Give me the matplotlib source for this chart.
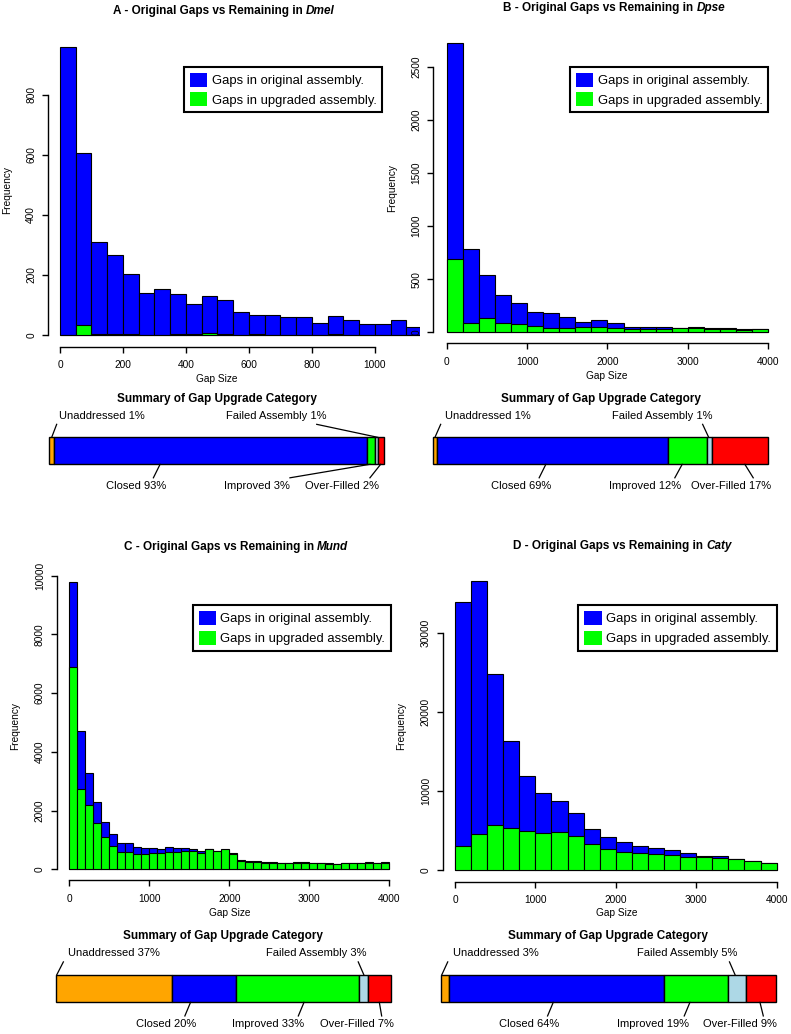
import numpy as np
import matplotlib
matplotlib.use('Agg')
import matplotlib.pyplot as plt
from matplotlib.patches import Patch

plt.rcParams['font.family'] = ['Liberation Sans', 'DejaVu Sans']

##### gap size histograms (counts per bin, original vs upgraded assembly)
panel_letters = ['A', 'B', 'C', 'D']
species = ['Dmel', 'Dpse', 'Mund', 'Caty']
bin_width = [50, 200, 100, 200]

dmel_orig = [961, 605, 311, 267, 203, 139, 152, 137, 103, 130, 117, 78, 67, 67,
             61, 61, 40, 62, 49, 38, 36, 50, 27]
dmel_upg = [0, 35, 5, 4, 2, 1, 1, 3, 3, 7, 2, 1, 2, 1, 1, 1, 1, 5, 1, 1, 1, 1, 1]

dpse_orig = [2720, 781, 540, 348, 279, 195, 185, 147, 100, 113, 88, 50, 50, 50,
             44, 53, 38, 38, 28, 28]
dpse_upg = [687, 91, 135, 91, 75, 63, 44, 44, 47, 47, 38, 28, 28, 31, 38, 44,
            28, 31, 22, 28]

mund_orig = [9773, 4722, 3292, 2293, 1612, 1192, 908, 885, 772, 715, 738, 704,
             749, 715, 715, 692, 636, 704, 624, 670, 545, 318, 272, 272, 240,
             240, 225, 230, 240, 240, 215, 220, 210, 190, 230, 225, 230, 235,
             225, 240]
mund_upg = [6900, 2735, 2190, 1566, 1112, 794, 602, 602, 533, 511, 567, 545,
            602, 602, 624, 613, 567, 681, 624, 681, 511, 300, 250, 255, 225,
            225, 210, 215, 225, 225, 200, 205, 195, 175, 215, 210, 215, 220,
            210, 225]

caty_orig = [33930, 36630, 24800, 16390, 11960, 9800, 8750, 7270, 5200, 4225,
             3590, 3085, 2750, 2535, 2200, 1817, 1730, 1394, 1140, 845]
caty_upg = [3040, 4520, 5700, 5365, 4985, 4650, 4775, 4350, 3250, 2620, 2320,
            2110, 1985, 1900, 1690, 1600, 1480, 1394, 1140, 845]

##### summary of gap upgrade category
categories = ['Unaddressed', 'Closed', 'Improved', 'Failed Assembly', 'Over-Filled']
cat_colors = ['#FFA500', '#0000FF', '#00FF00', '#ADD8E6', '#FF0000']
dmel_share = [1.4, 93.4, 2.5, 1.0, 1.7]
dpse_share = [1.2, 69.0, 11.5, 1.6, 16.7]
mund_share = [34.7, 19.0, 37.0, 2.7, 6.7]
caty_share = [2.6, 64.2, 18.9, 5.5, 8.9]
dmel_pct = [1, 93, 3, 1, 2]
dpse_pct = [1, 69, 12, 1, 17]
mund_pct = [37, 20, 33, 3, 7]
caty_pct = [3, 64, 19, 5, 9]

W, H = 791, 1034
fig = plt.figure(figsize=(W / 100, H / 100), dpi=100)


def box(x0, y0, x1, y1):
    return [x0 / W, 1 - y1 / H, (x1 - x0) / W, (y1 - y0) / H]


def fx(x):
    return x / W


def fy(y):
    return 1 - y / H


def title2(cx, cy, a, b, fs=8.5):
    # bold text followed by bold italic species name
    r = fig.canvas.get_renderer()
    t1 = fig.text(0, fy(cy), a, fontsize=fs, weight='bold', va='center', ha='left')
    t2 = fig.text(0, fy(cy), b, fontsize=fs, weight='bold', style='italic',
                  va='center', ha='left')
    w1 = t1.get_window_extent(r).width
    w2 = t2.get_window_extent(r).width
    gap = 0.28 * fs * 100 / 72
    x0 = cx - (w1 + gap + w2) / 2
    t1.set_x(fx(x0))
    t2.set_x(fx(x0 + w1 + gap))


def hist_panel(rect, orig, upg, bw, xlim, ylim, xticks, yticks, leg_xy):
    ax = fig.add_axes(box(*rect))
    ax.patch.set_alpha(0)
    edges = np.arange(len(orig)) * bw
    ax.bar(edges, orig, width=bw, align='edge', color='#0000FF',
           edgecolor='black', linewidth=0.8)
    ax.bar(edges, upg, width=bw, align='edge', color='#00FF00',
           edgecolor='black', linewidth=0.8)
    ax.set_xlim(*xlim)
    ax.set_ylim(*ylim)
    ax.set_xticks(xticks)
    ax.set_yticks(yticks)
    ax.spines['top'].set_visible(False)
    ax.spines['right'].set_visible(False)
    ax.spines['left'].set_bounds(yticks[0], yticks[-1])
    ax.spines['bottom'].set_bounds(xticks[0], xticks[-1])
    ax.spines['left'].set_linewidth(1)
    ax.spines['bottom'].set_linewidth(1)
    ax.tick_params(axis='x', length=4, width=1, labelsize=7.3, pad=6)
    ax.tick_params(axis='y', length=4.5, width=1, labelsize=7.3, pad=4)
    for lab in ax.get_yticklabels():
        lab.set_rotation(90)
        lab.set_va('center')
    handles = [Patch(facecolor='#0000FF', edgecolor='none'),
               Patch(facecolor='#00FF00', edgecolor='none')]
    leg = ax.legend(handles, ['Gaps in original assembly.', 'Gaps in upgraded assembly.'],
                    loc='upper left', bbox_to_anchor=(fx(leg_xy[0]), fy(leg_xy[1])),
                    bbox_transform=fig.transFigure, borderaxespad=0, fancybox=False,
                    edgecolor='black', framealpha=1, fontsize=9.4,
                    handlelength=1.33, handleheight=1.28, labelspacing=0.4,
                    handletextpad=0.33, borderpad=0.45)
    leg.get_frame().set_linewidth(1.5)
    return ax


def summary_panel(rect, shares, pcts, layout):
    ax = fig.add_axes(box(*rect))
    ax.set_xlim(0, 100)
    ax.set_ylim(0, 1)
    ax.axis('off')
    s = np.array(shares, dtype=float)
    s = s / s.sum() * 100
    left = np.concatenate([[0], np.cumsum(s)[:-1]])
    bars = ax.barh(0.5, s, left=left, height=1, color=cat_colors,
                   edgecolor='black', linewidth=1)
    for b in bars:
        b.set_clip_on(False)
    ax.text(50, 2.42, 'Summary of Gap Upgrade Category', ha='center', va='center',
            fontsize=8.5, weight='bold', clip_on=False)
    for cat, p, (tx, anc, end) in zip(categories, pcts, layout):
        lab = '%s %d%%' % (cat, p)
        if cat in ('Unaddressed', 'Failed Assembly'):
            ax.plot([anc, end], [1, 1.48], color='black', lw=0.9, clip_on=False)
            ax.text(tx, 1.8, lab, ha='left' if cat == 'Unaddressed' else 'center',
                    va='center', fontsize=8, clip_on=False)
        else:
            ax.plot([anc, end], [0, -0.5], color='black', lw=0.9, clip_on=False)
            ax.text(tx, -0.8, lab, ha='center', va='center', fontsize=8, clip_on=False)


##### A
hist_panel((48, 35.2, 420, 346.5), dmel_orig, dmel_upg, bin_width[0],
           (-38.1, 1142.9), (-38.3, 999.3), range(0, 1001, 200), range(0, 801, 200),
           (184, 66.7))
##### B
hist_panel((433.3, 31.6, 781, 343.3), dpse_orig, dpse_upg, bin_width[1],
           (-166.7, 4158), (-103.5, 2829), range(0, 4001, 1000), range(0, 2501, 500),
           (570, 66.7))
##### C
hist_panel((56.7, 570.9, 402, 880), mund_orig, mund_upg, bin_width[2],
           (-157.5, 4161), (-364, 10162), range(0, 4001, 1000), range(0, 10001, 2000),
           (192.7, 605))
##### D
hist_panel((442.7, 569.4, 789, 881.6), caty_orig, caty_upg, bin_width[3],
           (-153, 4154), (-1470, 38100), range(0, 4001, 1000), range(0, 30001, 10000),
           (578.3, 605))

title_pos = [(224, 10.8), (614, 7.5), (236, 546.7), (622, 545.7)]
for (cx, cy), let, sp in zip(title_pos, panel_letters, species):
    title2(cx, cy, '%s - Original Gaps vs Remaining in' % let, sp)

for x, y in [(217, 379), (607, 376), (229.7, 913.3), (616.3, 913)]:
    fig.text(fx(x), fy(y), 'Gap Size', ha='center', va='center', fontsize=7.3)
for x, y in [(7.5, 190), (391.7, 188), (15.5, 726), (401.3, 726)]:
    fig.text(fx(x), fy(y), 'Frequency', ha='center', va='center', fontsize=7.3,
             rotation=90)

# label x, anchor on bar, line end (percent of bar width)
summary_panel((49.3, 437.3, 384, 464.3), dmel_share, dmel_pct,
              [(3.0, 0.72, 2.2), (25.8, 33.1, 31.1), (62.0, 95.8, 71.9),
               (67.8, 98.1, 79.9), (87.6, 99.0, 95.8)])
summary_panel((433.3, 437.3, 768.3, 464.3), dpse_share, dpse_pct,
              [(3.5, 0.5, 2.2), (26.1, 33.6, 31.6), (63.3, 74.3, 72.1),
               (68.3, 82.2, 80.4), (89.0, 93.0, 95.5)])
summary_panel((56, 975, 390.7, 1002.3), mund_share, mund_pct,
              [(3.7, 0.2, 2.2), (32.9, 40.2, 38.5), (63.3, 74.1, 72.4),
               (77.8, 92.0, 90.3), (90.0, 96.6, 97.3)])
summary_panel((440.7, 975, 775.7, 1002.3), caty_share, caty_pct,
              [(3.8, 0.3, 2.1), (26.3, 33.6, 31.9), (63.4, 74.4, 72.7),
               (73.5, 87.9, 86.2), (89.2, 95.3, 96.3)])

fig.savefig('out.png', dpi=100)
